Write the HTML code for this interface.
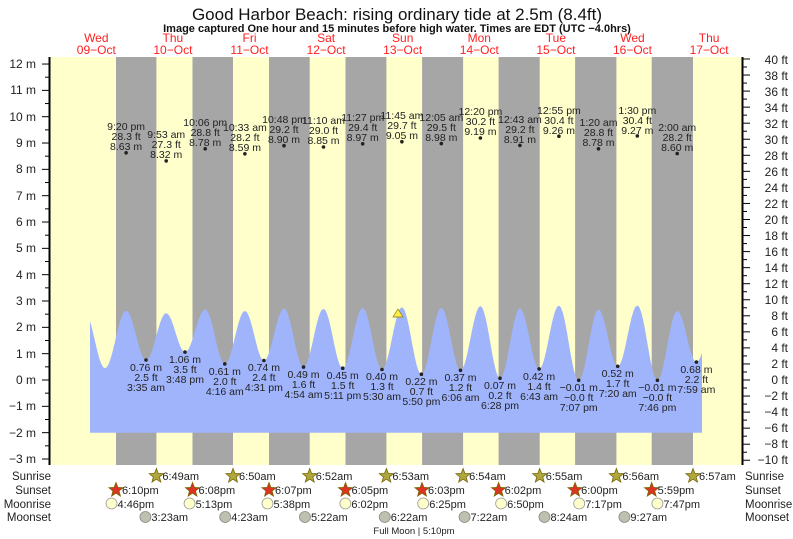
<!DOCTYPE html>
<html><head><meta charset="utf-8"><style>
body{margin:0;background:#fff}
svg{display:block;font-family:"Liberation Sans",sans-serif}
</style></head><body>
<svg id="s" width="793" height="539" viewBox="0 0 793 539" xmlns="http://www.w3.org/2000/svg">
<rect x="50" y="57" width="692" height="408" fill="#ffffcc"/>
<g fill="#a6a6a6">
<rect x="116" y="57" width="40.4" height="408"/>
<rect x="192.5" y="57" width="40.5" height="408"/>
<rect x="269" y="57" width="40.7" height="408"/>
<rect x="345.5" y="57" width="40.9" height="408"/>
<rect x="422.1" y="57" width="41" height="408"/>
<rect x="498.6" y="57" width="41.1" height="408"/>
<rect x="575.1" y="57" width="41.3" height="408"/>
<rect x="651.7" y="57" width="41.3" height="408"/>
</g>
<path id="water" fill="#a0b4fc" d=""/>
<polygon points="398,309 393,317 403,317" fill="#ffee44" stroke="#887700" stroke-width="0.7"/>
<g id="ticks" stroke="#000"></g>
<line x1="49.5" y1="57" x2="49.5" y2="465" stroke="#000" stroke-width="2"/>
<line x1="742.5" y1="57" x2="742.5" y2="465" stroke="#000" stroke-width="2"/>
<g font-size="12" text-anchor="end" fill="#222">
<text x="36" y="68">12 m</text><text x="36" y="94">11 m</text><text x="36" y="121">10 m</text><text x="36" y="147">9 m</text><text x="36" y="173">8 m</text><text x="36" y="200">7 m</text><text x="36" y="226">6 m</text><text x="36" y="252">5 m</text><text x="36" y="279">4 m</text><text x="36" y="305">3 m</text><text x="36" y="331">2 m</text><text x="36" y="358">1 m</text><text x="36" y="384">0 m</text><text x="36" y="410">−1 m</text><text x="36" y="437">−2 m</text><text x="36" y="463">−3 m</text>
</g>
<g font-size="12" fill="#222" text-anchor="end">
<text x="788" y="64">40 ft</text><text x="788" y="80">38 ft</text><text x="788" y="96">36 ft</text><text x="788" y="112">34 ft</text><text x="788" y="128">32 ft</text><text x="788" y="144">30 ft</text><text x="788" y="160">28 ft</text><text x="788" y="176">26 ft</text><text x="788" y="192">24 ft</text><text x="788" y="208">22 ft</text><text x="788" y="224">20 ft</text><text x="788" y="240">18 ft</text><text x="788" y="256">16 ft</text><text x="788" y="272">14 ft</text><text x="788" y="288">12 ft</text><text x="788" y="304">10 ft</text><text x="788" y="320">8 ft</text><text x="788" y="336">6 ft</text><text x="788" y="352">4 ft</text><text x="788" y="368">2 ft</text><text x="788" y="384">0 ft</text><text x="788" y="400">−2 ft</text><text x="788" y="416">−4 ft</text><text x="788" y="432">−6 ft</text><text x="788" y="448">−8 ft</text><text x="788" y="464">−10 ft</text>
</g>
<text x="397" y="20" font-size="17" text-anchor="middle" fill="#111">Good Harbor Beach: rising  ordinary tide at 2.5m (8.4ft)</text>
<text x="397" y="32" font-size="11" font-weight="bold" text-anchor="middle" fill="#111">Image captured One hour and 15 minutes before high water. Times are EDT (UTC −4.0hrs)</text>
<g font-size="12" fill="#ff2020" text-anchor="middle">
<text x="96.3" y="42">Wed</text><text x="96.3" y="54">09−Oct</text>
<text x="172.9" y="42">Thu</text><text x="172.9" y="54">10−Oct</text>
<text x="249.5" y="42">Fri</text><text x="249.5" y="54">11−Oct</text>
<text x="326.1" y="42">Sat</text><text x="326.1" y="54">12−Oct</text>
<text x="402.7" y="42">Sun</text><text x="402.7" y="54">13−Oct</text>
<text x="479.3" y="42">Mon</text><text x="479.3" y="54">14−Oct</text>
<text x="555.9" y="42">Tue</text><text x="555.9" y="54">15−Oct</text>
<text x="632.5" y="42">Wed</text><text x="632.5" y="54">16−Oct</text>
<text x="709.1" y="42">Thu</text><text x="709.1" y="54">17−Oct</text>
</g>
<g font-size="10.5" fill="#222" text-anchor="middle">
<circle cx="126.1" cy="152.8" r="1.8"/><text x="126.1" y="130">9:20 pm</text><text x="126.1" y="140">28.3 ft</text><text x="126.1" y="150">8.63 m</text>
<circle cx="166.2" cy="160.9" r="1.8"/><text x="166.2" y="138">9:53 am</text><text x="166.2" y="148">27.3 ft</text><text x="166.2" y="158">8.32 m</text>
<circle cx="205.2" cy="148.8" r="1.8"/><text x="205.2" y="126">10:06 pm</text><text x="205.2" y="136">28.8 ft</text><text x="205.2" y="146">8.78 m</text>
<circle cx="244.9" cy="153.8" r="1.8"/><text x="244.9" y="131">10:33 am</text><text x="244.9" y="141">28.2 ft</text><text x="244.9" y="151">8.59 m</text>
<circle cx="284" cy="145.7" r="1.8"/><text x="284" y="123">10:48 pm</text><text x="284" y="133">29.2 ft</text><text x="284" y="143">8.90 m</text>
<circle cx="323.5" cy="147" r="1.8"/><text x="323.5" y="124">11:10 am</text><text x="323.5" y="134">29.0 ft</text><text x="323.5" y="144">8.85 m</text>
<circle cx="362.7" cy="143.8" r="1.8"/><text x="362.7" y="121">11:27 pm</text><text x="362.7" y="131">29.4 ft</text><text x="362.7" y="141">8.97 m</text>
<circle cx="401.9" cy="141.7" r="1.8"/><text x="401.9" y="119">11:45 am</text><text x="401.9" y="129">29.7 ft</text><text x="401.9" y="139">9.05 m</text>
<circle cx="441.3" cy="143.6" r="1.8"/><text x="441.3" y="121">12:05 am</text><text x="441.3" y="131">29.5 ft</text><text x="441.3" y="141">8.98 m</text>
<circle cx="480.4" cy="138" r="1.8"/><text x="480.4" y="115">12:20 pm</text><text x="480.4" y="125">30.2 ft</text><text x="480.4" y="135">9.19 m</text>
<circle cx="519.9" cy="145.4" r="1.8"/><text x="519.9" y="123">12:43 am</text><text x="519.9" y="133">29.2 ft</text><text x="519.9" y="143">8.91 m</text>
<circle cx="558.9" cy="136.2" r="1.8"/><text x="558.9" y="114">12:55 pm</text><text x="558.9" y="124">30.4 ft</text><text x="558.9" y="134">9.26 m</text>
<circle cx="598.5" cy="148.8" r="1.8"/><text x="598.5" y="126">1:20 am</text><text x="598.5" y="136">28.8 ft</text><text x="598.5" y="146">8.78 m</text>
<circle cx="637.3" cy="135.9" r="1.8"/><text x="637.3" y="114">1:30 pm</text><text x="637.3" y="124">30.4 ft</text><text x="637.3" y="134">9.27 m</text>
<circle cx="677.2" cy="153.6" r="1.8"/><text x="677.2" y="131">2:00 am</text><text x="677.2" y="141">28.2 ft</text><text x="677.2" y="151">8.60 m</text>

<circle cx="146" cy="360" r="1.8"/><text x="146" y="371">0.76 m</text><text x="146" y="381">2.5 ft</text><text x="146" y="391">3:35 am</text>
<circle cx="185" cy="352.1" r="1.8"/><text x="185" y="363">1.06 m</text><text x="185" y="373">3.5 ft</text><text x="185" y="383">3:48 pm</text>
<circle cx="224.8" cy="363.9" r="1.8"/><text x="224.8" y="375">0.61 m</text><text x="224.8" y="385">2.0 ft</text><text x="224.8" y="395">4:16 am</text>
<circle cx="263.9" cy="360.5" r="1.8"/><text x="263.9" y="371">0.74 m</text><text x="263.9" y="381">2.4 ft</text><text x="263.9" y="391">4:31 pm</text>
<circle cx="303.5" cy="367.1" r="1.8"/><text x="303.5" y="378">0.49 m</text><text x="303.5" y="388">1.6 ft</text><text x="303.5" y="398">4:54 am</text>
<circle cx="342.7" cy="368.2" r="1.8"/><text x="342.7" y="379">0.45 m</text><text x="342.7" y="389">1.5 ft</text><text x="342.7" y="399">5:11 pm</text>
<circle cx="382" cy="369.5" r="1.8"/><text x="382" y="380">0.40 m</text><text x="382" y="390">1.3 ft</text><text x="382" y="400">5:30 am</text>
<circle cx="421.4" cy="374.2" r="1.8"/><text x="421.4" y="385">0.22 m</text><text x="421.4" y="395">0.7 ft</text><text x="421.4" y="405">5:50 pm</text>
<circle cx="460.5" cy="370.3" r="1.8"/><text x="460.5" y="381">0.37 m</text><text x="460.5" y="391">1.2 ft</text><text x="460.5" y="401">6:06 am</text>
<circle cx="500" cy="378.2" r="1.8"/><text x="500" y="389">0.07 m</text><text x="500" y="399">0.2 ft</text><text x="500" y="409">6:28 pm</text>
<circle cx="539.1" cy="368.9" r="1.8"/><text x="539.1" y="380">0.42 m</text><text x="539.1" y="390">1.4 ft</text><text x="539.1" y="400">6:43 am</text>
<circle cx="578.7" cy="380.3" r="1.8"/><text x="578.7" y="391">−0.01 m</text><text x="578.7" y="401">−0.0 ft</text><text x="578.7" y="411">7:07 pm</text>
<circle cx="617.7" cy="366.3" r="1.8"/><text x="617.7" y="377">0.52 m</text><text x="617.7" y="387">1.7 ft</text><text x="617.7" y="397">7:20 am</text>
<circle cx="657.4" cy="380.3" r="1.8"/><text x="657.4" y="391">−0.01 m</text><text x="657.4" y="401">−0.0 ft</text><text x="657.4" y="411">7:46 pm</text>
<circle cx="696.4" cy="362.1" r="1.8"/><text x="696.4" y="373">0.68 m</text><text x="696.4" y="383">2.2 ft</text><text x="696.4" y="393">7:59 am</text>
</g>
<g font-size="11.5" fill="#222" text-anchor="end">
<text x="51" y="480">Sunrise</text>
<text x="51" y="494">Sunset</text>
<text x="51" y="508">Moonrise</text>
<text x="51" y="521">Moonset</text>
</g>
<g font-size="11.5" fill="#222">
<text x="745" y="480">Sunrise</text>
<text x="745" y="494">Sunset</text>
<text x="745" y="508">Moonrise</text>
<text x="745" y="521">Moonset</text>
</g>
<g id="icons"></g>
<text x="414" y="534" font-size="9.5" text-anchor="middle" fill="#222">Full Moon | 5:10pm</text>
</svg>
<script>
(function(){
function X(h){return 58+h*3.192;}
function Y(m){return 380-m*26.33;}
var H=[[21.333,8.63],[33.883,8.32],[46.1,8.78],[58.55,8.59],[70.8,8.90],[83.167,8.85],[95.45,8.97],[107.75,9.05],[120.083,8.98],[132.333,9.19],[144.717,8.91],[156.917,9.26],[169.333,8.78],[181.5,9.27],[194,8.60]];
var L=[[27.583,0.76],[39.8,1.06],[52.267,0.61],[64.517,0.74],[76.9,0.49],[89.183,0.45],[101.5,0.40],[113.833,0.22],[126.1,0.37],[138.467,0.07],[150.717,0.42],[163.117,-0.01],[175.333,0.52],[187.767,-0.01],[199.983,0.68]];
var E=[[8.3,2.6],[14.7,0.45]];
for(var i=0;i<15;i++){E.push([H[i][0],H[i][1]*0.3048]);E.push(L[i]);}
E.push([206.3,2.6]);
var d="M90,"+Y(-2).toFixed(1);
for(var x=90;x<=702;x+=1){
 var h=(x-58)/3.192,k=0;
 while(k<E.length-2&&E[k+1][0]<h)k++;
 var a=E[k],b=E[k+1],f=(h-a[0])/(b[0]-a[0]);
 var v=a[1]+(b[1]-a[1])*(1-Math.cos(Math.PI*f))/2;
 d+=" L"+x+","+Y(v).toFixed(1);
}
d+=" L702,"+Y(-2).toFixed(1)+"Z";
document.getElementById("water").setAttribute("d",d);
var NS="http://www.w3.org/2000/svg";
function el(parent,tag,attrs,txt){var e=document.createElementNS(NS,tag);for(var k in attrs)e.setAttribute(k,attrs[k]);if(txt)e.textContent=txt;parent.appendChild(e);return e;}
var t=document.getElementById("ticks");
for(var m=-3;m<=12;m+=0.5){var y=Y(m);el(t,"line",{x1:(m%1?45:42),x2:49,y1:y,y2:y});}
for(var ft=-10;ft<=40;ft+=1){var y=380-ft*0.3048*26.33;el(t,"line",{x1:743,x2:(ft%2?747:750),y1:y,y2:y});}
var g=document.getElementById("icons");
function star(cx,cy,fill){var p=[];for(var i=0;i<10;i++){var r=i%2?3.2:7.5,a=-Math.PI/2+i*Math.PI/5;p.push((cx+r*Math.cos(a)).toFixed(1)+","+(cy+r*Math.sin(a)).toFixed(1));}
 el(g,"polygon",{points:p.join(" "),fill:fill,stroke:"#776600","stroke-width":0.8});}
function lab(x,y,s){el(g,"text",{x:x+6,y:y,"font-size":11,fill:"#222"},s);}
var sr=[[30.817,"6:49am"],[54.833,"6:50am"],[78.867,"6:52am"],[102.883,"6:53am"],[126.9,"6:54am"],[150.917,"6:55am"],[174.933,"6:56am"],[198.95,"6:57am"]];
var ss=[[18.167,"6:10pm"],[42.133,"6:08pm"],[66.117,"6:07pm"],[90.083,"6:05pm"],[114.05,"6:03pm"],[138.033,"6:02pm"],[162,"6:00pm"],[185.983,"5:59pm"]];
var mr=[[16.767,"4:46pm"],[41.217,"5:13pm"],[65.633,"5:38pm"],[90.033,"6:02pm"],[114.417,"6:25pm"],[138.833,"6:50pm"],[163.283,"7:17pm"],[187.783,"7:47pm"]];
var ms=[[27.383,"3:23am"],[52.383,"4:23am"],[77.367,"5:22am"],[102.367,"6:22am"],[127.367,"7:22am"],[152.4,"8:24am"],[177.45,"9:27am"]];
sr.forEach(function(e){var x=X(e[0]);star(x,476,"#b0a640");lab(x,480,e[1]);});
ss.forEach(function(e){var x=X(e[0]);star(x,490,"#dd3322");lab(x,494,e[1]);});
mr.forEach(function(e){var x=X(e[0]);el(g,"circle",{cx:x,cy:503.5,r:5.5,fill:"#ffffcc",stroke:"#999","stroke-width":0.8});lab(x,508,e[1]);});
ms.forEach(function(e){var x=X(e[0]);el(g,"circle",{cx:x,cy:517,r:5.5,fill:"#c0c0b0",stroke:"#888","stroke-width":0.8});lab(x,521,e[1]);});
})();
</script>
</body></html>
